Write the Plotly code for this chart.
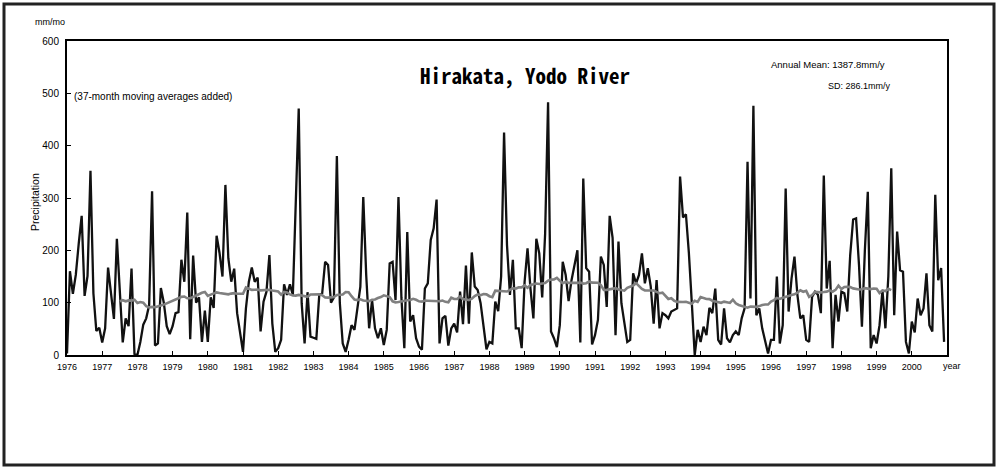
import numpy as np
import plotly.graph_objects as go

# ---- data (mm per month) ----
years = list(range(1976, 2001))
tick_labels = [str(y) for y in years]

p1976 = [3, 160, 117, 153, 213, 266, 113, 151, 352, 118, 46, 52]
p1977 = [24, 51, 167, 115, 69, 222, 110, 24, 70, 55, 165, 2]
p1978 = [0, 25, 58, 70, 95, 313, 18, 22, 128, 100, 55, 40]
p1979 = [55, 80, 82, 182, 140, 272, 30, 190, 100, 110, 25, 85]
p1980 = [25, 110, 90, 228, 195, 150, 325, 185, 140, 165, 80, 40]
p1981 = [6, 89, 140, 167, 140, 148, 45, 102, 121, 191, 60, 6]
p1982 = [13, 29, 135, 115, 135, 115, 300, 471, 99, 22, 120, 35]
p1983 = [33, 31, 115, 118, 178, 172, 100, 110, 380, 100, 22, 6]
p1984 = [29, 57, 48, 85, 130, 302, 153, 51, 105, 51, 32, 51]
p1985 = [19, 48, 175, 178, 105, 302, 110, 13, 235, 64, 76, 32]
p1986 = [16, 10, 127, 137, 220, 242, 297, 22, 70, 75, 18, 51]
p1987 = [60, 43, 121, 59, 171, 60, 196, 131, 124, 99, 51, 11]
p1988 = [25, 22, 102, 84, 150, 425, 210, 115, 182, 51, 51, 13]
p1989 = [140, 204, 127, 70, 222, 194, 110, 232, 483, 45, 32, 15]
p1990 = [57, 178, 153, 103, 143, 169, 200, 24, 337, 166, 159, 20]
p1991 = [38, 67, 188, 172, 92, 266, 224, 38, 217, 99, 64, 25]
p1992 = [29, 156, 137, 153, 194, 137, 166, 131, 60, 143, 51, 80]
p1993 = [76, 70, 83, 86, 89, 341, 263, 269, 195, 100, 0, 48]
p1994 = [25, 54, 38, 90, 80, 127, 29, 20, 89, 32, 24, 38]
p1995 = [45, 38, 70, 89, 369, 108, 476, 76, 89, 51, 29, 3]
p1996 = [29, 29, 150, 22, 57, 318, 83, 146, 188, 115, 70, 76]
p1997 = [29, 25, 111, 121, 115, 80, 343, 127, 180, 13, 115, 64]
p1998 = [121, 118, 83, 191, 259, 261, 172, 54, 200, 312, 13, 38]
p1999 = [22, 57, 124, 51, 150, 357, 76, 236, 162, 159, 25, 3]
p2000 = [64, 43, 108, 76, 89, 156, 57, 45, 306, 143, 166, 25]

monthly = (p1976 + p1977 + p1978 + p1979 + p1980 + p1981 + p1982 + p1983 +
           p1984 + p1985 + p1986 + p1987 + p1988 + p1989 + p1990 + p1991 +
           p1992 + p1993 + p1994 + p1995 + p1996 + p1997 + p1998 + p1999 + p2000)

window = 37
half = window // 2
n = len(monthly)
t = [1976 + i / 12 for i in range(n)]
ma = [float(np.mean(monthly[i - half:i + half + 1])) for i in range(half, n - half)]
t_ma = t[half:n - half]

# ---- layout geometry (pixels -> paper) ----
W, H = 999, 469
L, R, T, B = 67, 947, 41, 355
pw, ph = R - L, B - T


def px(xp):
    return (xp - L) / pw


def py(yp):
    return (B - yp) / ph


fig = go.Figure()
fig.add_trace(go.Scatter(x=t, y=monthly, mode="lines",
                         line=dict(color="#111111", width=2.3), showlegend=False))
fig.add_trace(go.Scatter(x=t_ma, y=ma, mode="lines",
                         line=dict(color="#808080", width=2.6), showlegend=False))

font = "Liberation Sans, Arial, sans-serif"

fig.update_layout(
    width=W, height=H,
    margin=dict(l=L, r=W - R, t=T, b=H - B, pad=0),
    paper_bgcolor="white", plot_bgcolor="white",
    font=dict(family=font, size=9, color="black"),
    xaxis=dict(range=[1976, 2001], tickvals=years, ticktext=tick_labels,
               ticks="inside", ticklen=4, tickwidth=1, tickcolor="black",
               showline=True, linewidth=2, linecolor="black", mirror=True,
               showgrid=False, zeroline=False, tickfont=dict(size=9),
               ticklabelstandoff=2),
    yaxis=dict(range=[0, 600], dtick=100, tickmode="linear",
               ticks="inside", ticklen=4, tickwidth=1, tickcolor="black",
               showline=True, linewidth=2, linecolor="black", mirror=True,
               showgrid=False, zeroline=False, tickfont=dict(size=10),
               ticklabelstandoff=4),
)

ann = [
    dict(text="<b>Hirakata, Yodo River</b>", x=px(525), y=py(75),
         font=dict(family="Noto Sans Mono CJK JP, Noto Sans CJK JP, sans-serif",
                   size=21, color="black")),
    dict(text="(37-month moving averages added)", x=px(153), y=py(97),
         font=dict(size=10)),
    dict(text="Annual Mean: 1387.8mm/y", x=px(828), y=py(64), font=dict(size=9.5)),
    dict(text="SD: 286.1mm/y", x=px(859), y=py(85.5), font=dict(size=9)),
    dict(text="mm/mo", x=px(50), y=py(22), font=dict(size=9)),
    dict(text="Precipitation", x=px(35), y=py(202), textangle=-90, font=dict(size=10.5)),
    dict(text="year", x=px(952), y=py(366), font=dict(size=9)),
]
for a in ann:
    a.update(xref="paper", yref="paper", showarrow=False,
             xanchor="center", yanchor="middle")
    fig.add_annotation(**a)

fig.add_shape(type="rect", xref="paper", yref="paper",
              x0=px(4), x1=px(994), y0=py(465), y1=py(4),
              line=dict(color="#222222", width=3), layer="above")

fig.write_html("out.html", config={"displayModeBar": False},
               post_script="document.body.style.margin='0';document.body.style.overflow='hidden';")
